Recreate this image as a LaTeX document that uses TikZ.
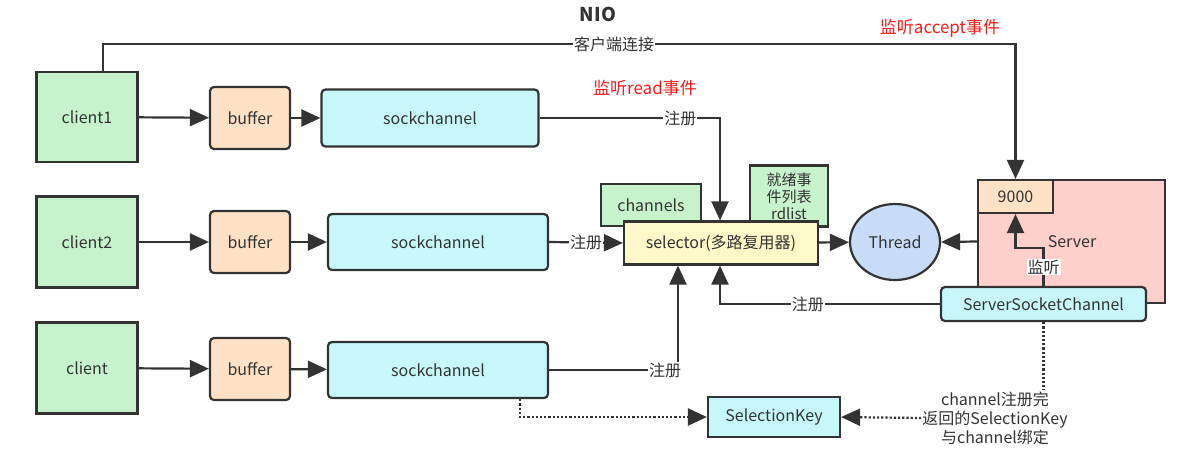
\documentclass[tikz,border=0pt]{standalone}
\usepackage{fontspec}
\setmainfont{Noto Sans CJK SC}
\usetikzlibrary{arrows.meta,shapes.geometric}
\definecolor{txt}{HTML}{333333}
\definecolor{edge}{HTML}{333333}
\definecolor{greenfill}{HTML}{C6F2CC}
\definecolor{bufffill}{HTML}{FFE2C6}
\definecolor{cyanfill}{HTML}{C8F7FA}
\definecolor{selfill}{HTML}{FFF8C8}
\definecolor{threadfill}{HTML}{C8DCF8}
\definecolor{serverfill}{HTML}{FFCFCC}
\definecolor{hint}{HTML}{FF1A1A}

\begin{document}
\begin{tikzpicture}[x=1pt, y=-1pt,
	every node/.style={font=\fontsize{16}{19}\selectfont, text=txt},
	box/.style={draw=edge, line width=2.2pt, inner sep=2pt},
	rbox/.style={box, rounded corners=4pt},
	wire/.style={draw=edge, line width=2.2pt},
	arr/.style={wire, -{Triangle[length=19pt,width=17pt]}},
	dotarr/.style={wire, dotted, -{Triangle[length=19pt,width=17pt]}},
	lbl/.style={fill=white, inner sep=1pt}]
	\useasboundingbox (0,0) rectangle (1179,469);
	\node[font=\fontsize{19}{21}\selectfont\bfseries] (title) at (598,14) {NIO};
	% clients, buffers, sockchannels
	\node[box, fill=greenfill, minimum width=101, minimum height=90] (client1) at (87,117) {client1};
	\node[box, fill=greenfill, minimum width=101, minimum height=91] (client2) at (87,242) {client2};
	\node[box, fill=greenfill, minimum width=101, minimum height=91] (client3) at (87,368) {client};
	\node[rbox, fill=bufffill, minimum width=80, minimum height=62] (buf1) at (250,118) {buffer};
	\node[rbox, fill=bufffill, minimum width=80, minimum height=62] (buf2) at (250,242) {buffer};
	\node[rbox, fill=bufffill, minimum width=80, minimum height=62] (buf3) at (250,369) {buffer};
	\node[rbox, fill=cyanfill, minimum width=217, minimum height=57] (sock1) at (430,118) {sockchannel};
	\node[rbox, fill=cyanfill, minimum width=220, minimum height=56] (sock2) at (438,242) {sockchannel};
	\node[rbox, fill=cyanfill, minimum width=220, minimum height=56] (sock3) at (438,370) {sockchannel};
	% selector and friends
	\node[box, fill=greenfill, minimum width=100, minimum height=42] (chans) at (651,205) {channels};
	\node[box, fill=greenfill, minimum width=78, minimum height=61, align=center,
		font=\fontsize{15}{17}\selectfont] (rdlist) at (789,196) {就绪事\\件列表\\rdlist};
	\node[box, fill=selfill, minimum width=194, minimum height=43] (sel) at (721,243) {selector(多路复用器)};
	\node[ellipse, draw=edge, line width=2.2pt, fill=threadfill, minimum width=90, minimum height=76] (thread) at (895,242) {Thread};
	% server side
	\node[box, fill=serverfill, minimum width=187, minimum height=123] (server) at (1071.5,241.5) {};
	\node (srvtxt) at (1072,242) {Server};
	\node[box, fill=bufffill, minimum width=75, minimum height=33] (port) at (1015.5,196.5) {9000};
	\node[rbox, fill=cyanfill, minimum width=205, minimum height=34] (ssc) at (1043.5,304) {ServerSocketChannel};
	\node[box, fill=cyanfill, minimum width=132, minimum height=40] (skey) at (774,417) {SelectionKey};
	\node[align=center, inner sep=1pt] (note) at (995,418) {channel注册完\\返回的SelectionKey\\与channel绑定};
	% red hints
	\node[text=hint, font=\fontsize{17}{19}\selectfont] (hacc) at (940,28) {监听accept事件};
	\node[text=hint, font=\fontsize{17}{19}\selectfont] (hread) at (645,88) {监听read事件};
	% connections
	\foreach \from/\to in {client1/buf1, client2/buf2, client3/buf3,
		buf1/sock1, buf2/sock2, buf3/sock3, sel/thread}
	\draw[arr] (\from) -- (\to);
	\draw[arr] (server.west) -- (thread.east);
	\draw[arr] ([xshift=16pt]client1.north) |- node[pos=0.78, lbl] {客户端连接} (port.north |- 0,44) -- (port.north);
	\draw[arr] (sock1.east) -| node[pos=0.39, lbl] {注册} ([xshift=-1pt]sel.north);
	\draw[arr] (sock2.east) -- node[lbl] {注册} (sel.west);
	\draw[arr] (sock3.east) -| node[pos=0.45, lbl] {注册} (sel.south -| 678,0);
	\draw[arr] (ssc.west) -| node[pos=0.3, lbl] {注册} ([xshift=-1pt]sel.south);
	\draw[arr] (ssc.north) -- node[lbl] {监听} (ssc.north |- 0,248) -| (port.south);
	\draw[wire, dotted] (ssc.south) -- (ssc.south |- note.north);
	\draw[dotarr] (note.west) -- (skey.east);
	\draw[dotarr] ([xshift=82pt]sock3.south) |- (skey.west);
\end{tikzpicture}
\end{document}
